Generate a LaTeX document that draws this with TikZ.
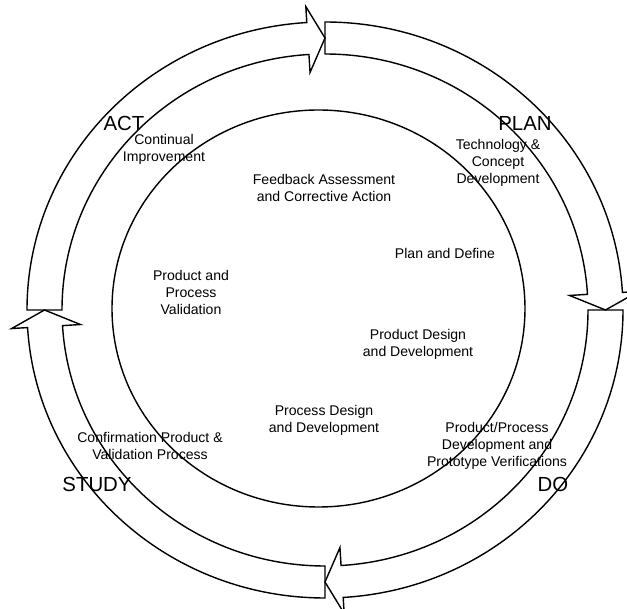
\documentclass[tikz,border=0pt]{standalone}
\usepackage{fontspec}
\setmainfont{Liberation Sans}
\usetikzlibrary{calc}
\begin{document}
\begin{tikzpicture}[x=0.025cm, y=-0.025cm, line width=1pt,
		phase/.style={inner sep=0pt, font=\fontsize{14.5}{17}\selectfont},
		activity/.style={inner sep=0pt, align=center, font=\fontsize{10}{12.1}\selectfont}]
		\useasboundingbox (0,0) rectangle (627,609);
		\coordinate (ring) at (325,310);
		\coordinate (core) at (318.5,308.5);
		\foreach \s in {0, 90, 180, 270} {
			\pgfmathsetmacro{\b}{\s+86.5}
			\pgfmathsetmacro{\e}{\s+90}
			\draw [line join=miter] ($(ring)+(\s:298 and 288)$) arc [start angle=\s, end angle=\b, x radius=298, y radius=288]
				-- ($(ring)+(\b:314 and 304)$) -- ($(ring)+(\e:280.5 and 272)$) -- ($(ring)+(\b:245 and 238)$)
				-- ($(ring)+(\b:263 and 256)$) arc [start angle=\b, end angle=\s, x radius=263, y radius=256] -- cycle;
		};
		\draw (core) ellipse [x radius=206.5, y radius=198.5];
		\node [phase] (act) at (124,123) {ACT};
		\node [phase] (plan) at (525,123) {PLAN};
		\node [phase] (do) at (553,484) {DO};
		\node [phase] (study) at (97,484) {STUDY};
		\node [activity] (improve) at (164,149) {Continual\\Improvement};
		\node [activity] (concept) at (498,163) {Technology \&\\Concept\\Development};
		\node [activity] (feedback) at (324,188) {Feedback Assessment\\and Corrective Action};
		\node [activity] (define) at (445,253) {Plan and Define};
		\node [activity] (validation) at (191,292) {Product and\\Process\\Validation};
		\node [activity] (productdesign) at (418,344) {Product Design\\and Development};
		\node [activity] (processdesign) at (324,420) {Process Design\\and Development};
		\node [activity] (confirm) at (150,446) {Confirmation Product \&\\Validation Process};
		\node [activity] (verify) at (497,446) {Product/Process\\Development and\\Prototype Verifications};
	\end{tikzpicture}
\end{document}
